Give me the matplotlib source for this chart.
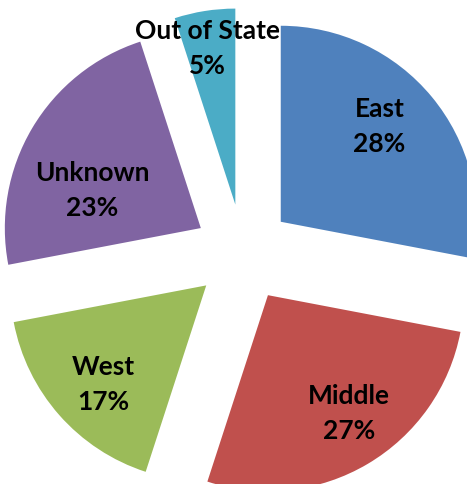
import numpy as np
import matplotlib
matplotlib.use("Agg")
from matplotlib import pyplot as plt

labels = ["East", "Middle", "West", "Unknown", "Out of State"]
shares = [28, 27, 17, 23, 5]
colors = ["#4F81BD", "#C0504D", "#9BBB59", "#8064A2", "#4BACC6"]
# label placement: distance (fraction of radius) from exploded apex,
# and angle nudge in degrees off the wedge bisector
label_dist = [0.70, 0.73, 0.73, 0.585, 0.81]
label_nudge = [4.4, 3.75, 2.6, 11.5, 1.0]

plt.rcParams['font.family'] = ['Lato', 'DejaVu Sans']

fig = plt.figure(figsize=(4.67, 4.84), dpi=100)
ax = fig.add_axes([0, 0, 1, 1])

explode = [0.25] * len(shares)
wedges, _ = ax.pie(shares, colors=colors, startangle=90, counterclock=False,
                   explode=explode, radius=1.0,
                   wedgeprops=dict(linewidth=0))

for w, lab, pct, dist, nudge in zip(wedges, labels, shares, label_dist, label_nudge):
    ang = np.deg2rad((w.theta1 + w.theta2) / 2 + nudge)
    cx, cy = w.center
    x = cx + dist * np.cos(ang)
    y = cy + dist * np.sin(ang)
    ax.text(x, y, f"{lab}\n{pct}%", ha="center", va="center",
            fontsize=19, fontweight="bold", linespacing=1.55)

# pixel-matched view: centre at (243, 253), radius 196 px
r_px = 196.0
ax.set_xlim(-243 / r_px, (467 - 243) / r_px)
ax.set_ylim((253 - 484) / r_px, 253 / r_px)
ax.set_aspect("auto")
ax.axis("off")

fig.savefig("out.png", dpi=100)
